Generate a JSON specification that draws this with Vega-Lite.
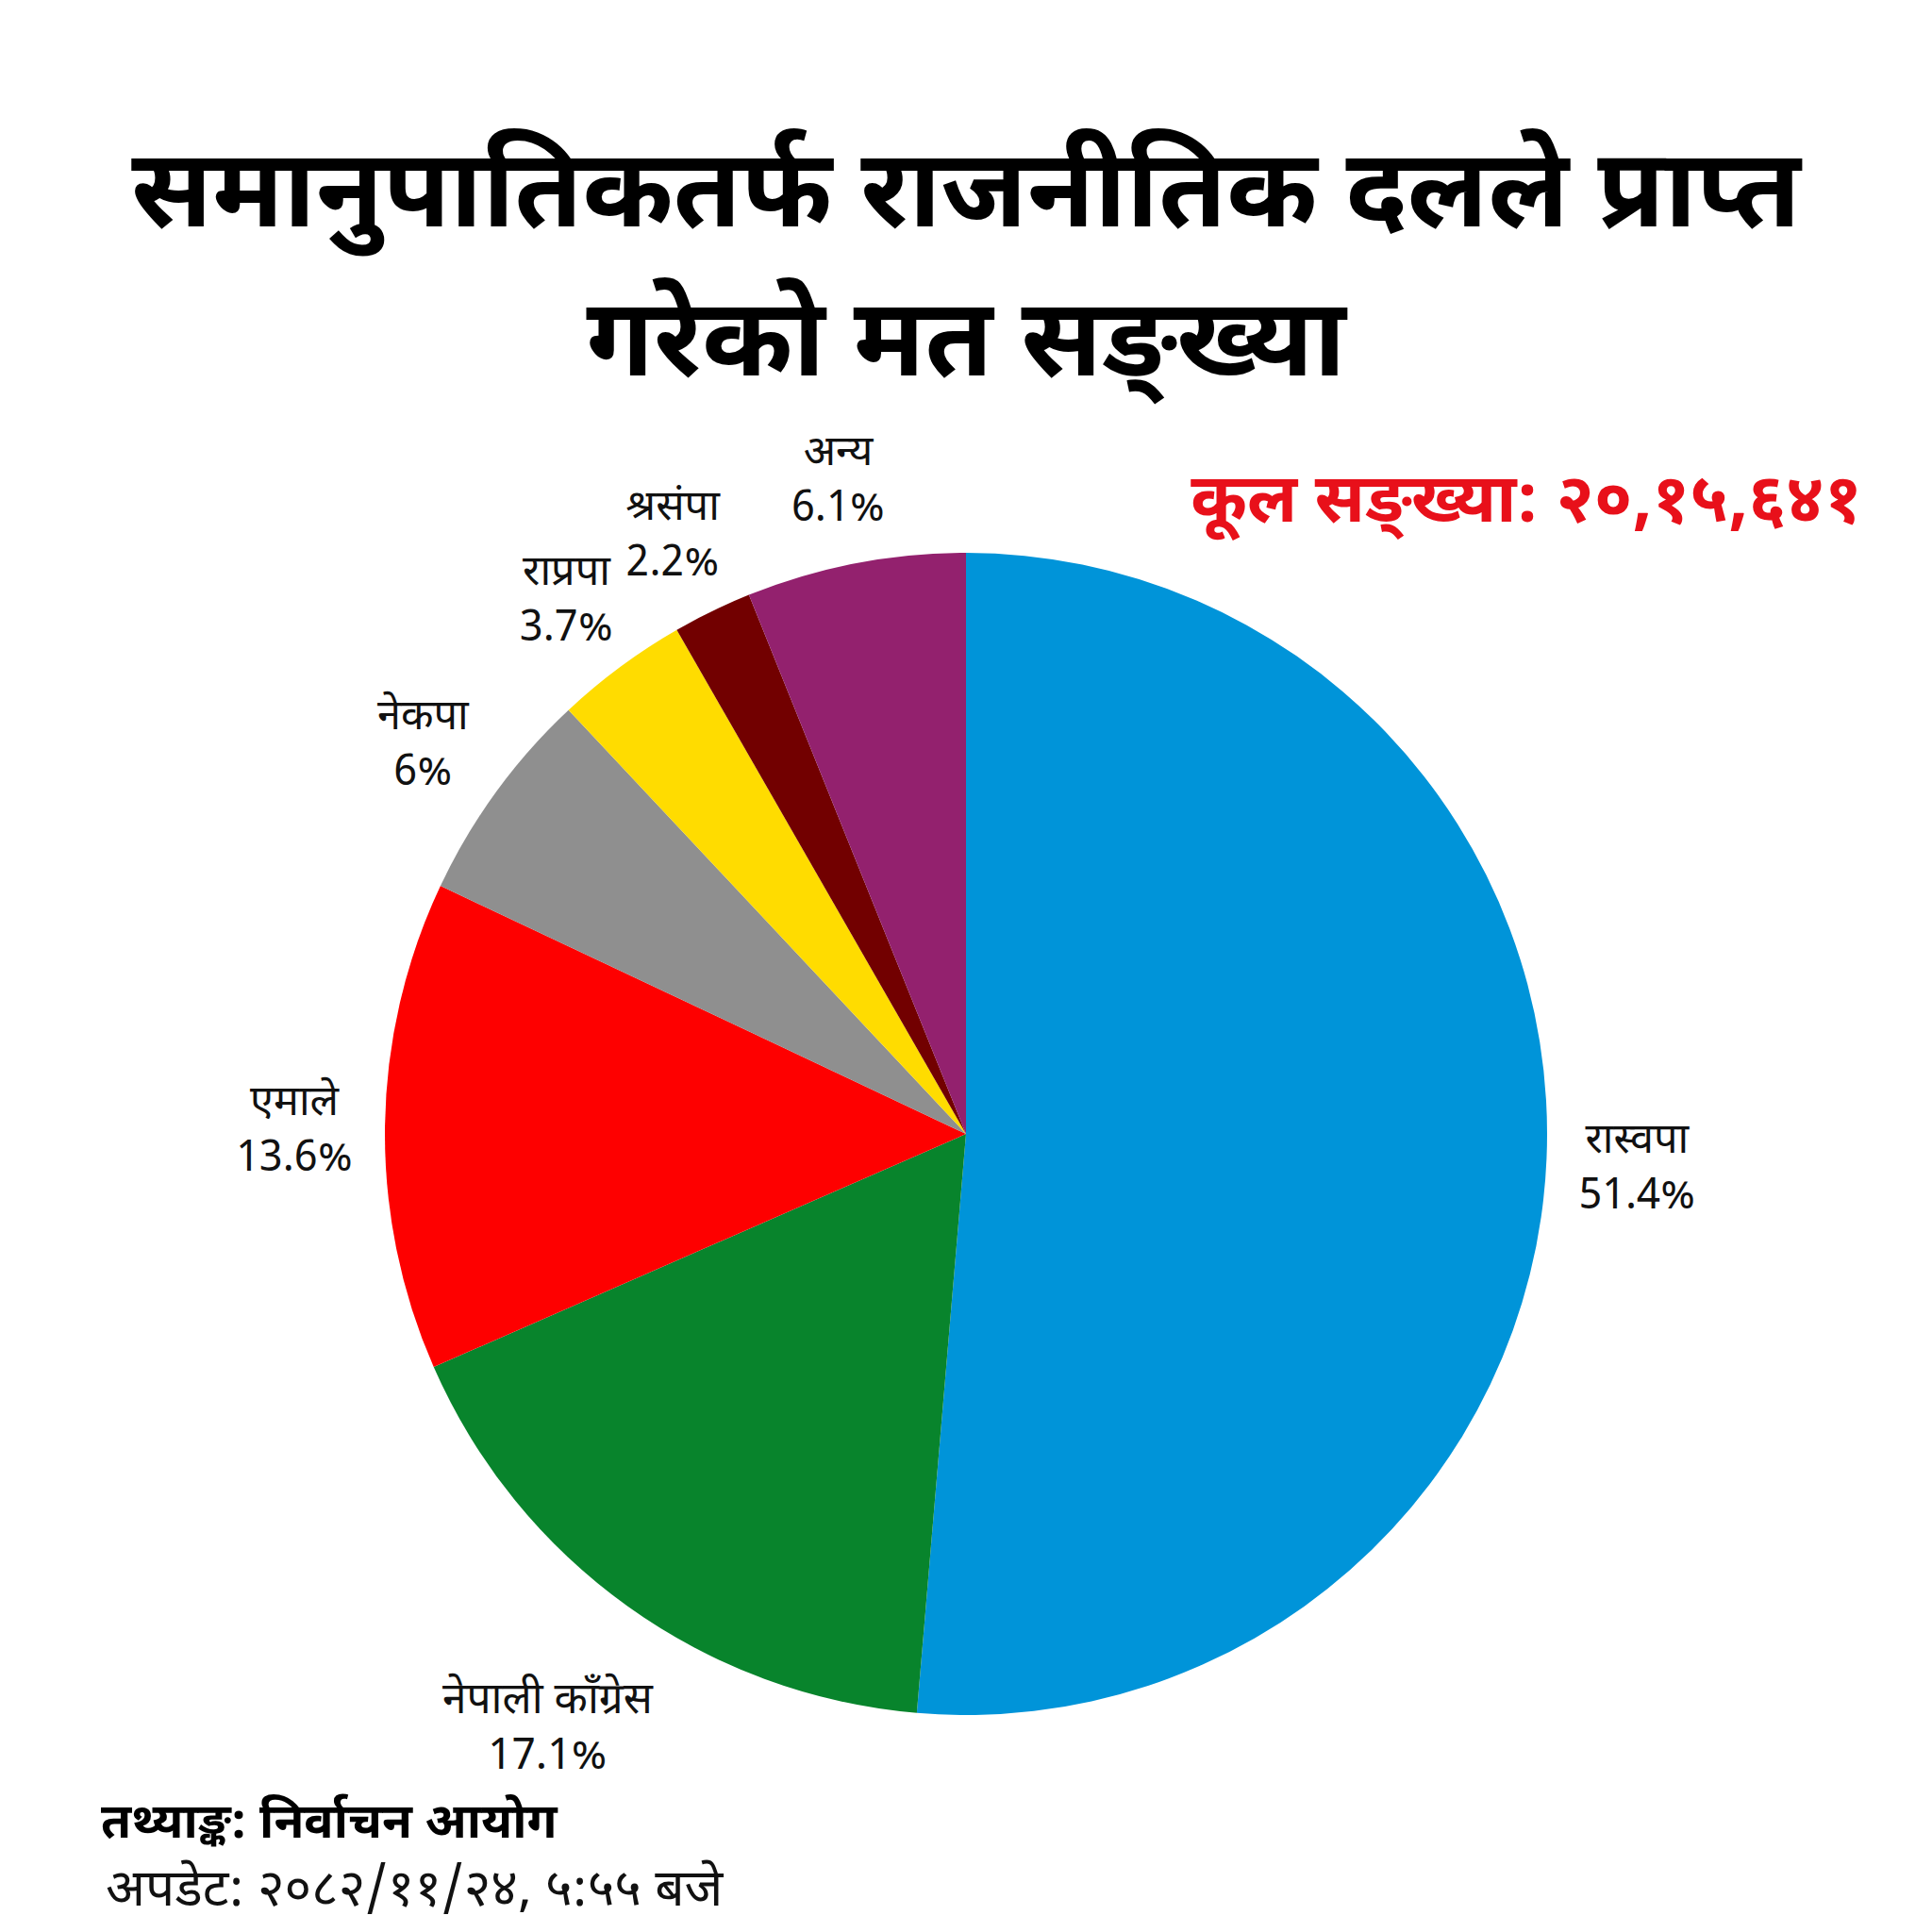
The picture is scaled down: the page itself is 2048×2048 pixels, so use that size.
{
  "$schema": "https://vega.github.io/schema/vega-lite/v6.json",
  "width": 2048,
  "height": 2048,
  "padding": 0,
  "autosize": {"type": "none"},
  "background": "white",
  "config": {"view": {"stroke": null}, "font": "Noto Sans Devanagari, Noto Sans, sans-serif"},
  "data": {
    "values": [
      {"rank": 1, "party": "रास्वपा", "pct": 51.4},
      {"rank": 2, "party": "नेपाली काँग्रेस", "pct": 17.1},
      {"rank": 3, "party": "एमाले", "pct": 13.6},
      {"rank": 4, "party": "नेकपा", "pct": 6},
      {"rank": 5, "party": "राप्रपा", "pct": 3.7},
      {"rank": 6, "party": "श्रसंपा", "pct": 2.2},
      {"rank": 7, "party": "अन्य", "pct": 6.1}
    ]
  },
  "layer": [
    {
      "mark": {"type": "arc", "outerRadius": 616, "strokeWidth": 0},
      "encoding": {
        "theta": {"field": "pct", "type": "quantitative", "stack": true},
        "order": {"field": "rank", "type": "quantitative"},
        "color": {
          "field": "party",
          "type": "nominal",
          "scale": {
            "domain": ["रास्वपा", "नेपाली काँग्रेस", "एमाले", "नेकपा", "राप्रपा", "श्रसंपा", "अन्य"],
            "range": ["#0094D9", "#08842C", "#FE0000", "#8F8F8F", "#FFDC00", "#720000", "#93216E"]
          },
          "legend": null
        },
        "x": {"value": 1024},
        "y": {"value": 1202}
      }
    },
    {
      "transform": [{"calculate": "[datum.party, datum.pct + '%']", "as": "label"}],
      "mark": {"type": "text", "radius": 712, "dy": -24, "fontSize": 45, "lineHeight": 59, "baseline": "middle", "align": "center", "color": "#111111"},
      "encoding": {
        "theta": {"field": "pct", "type": "quantitative", "stack": true},
        "order": {"field": "rank", "type": "quantitative"},
        "text": {"condition": {"test": "datum.rank == 2", "value": ""}, "field": "label"},
        "x": {"value": 1024},
        "y": {"value": 1202}
      }
    },
    {
      "transform": [{"calculate": "[datum.party, datum.pct + '%']", "as": "label"}],
      "mark": {"type": "text", "radius": 762, "dy": -20, "fontSize": 46, "lineHeight": 59, "baseline": "middle", "align": "center", "color": "#111111"},
      "encoding": {
        "theta": {"field": "pct", "type": "quantitative", "stack": true},
        "order": {"field": "rank", "type": "quantitative"},
        "text": {"condition": {"test": "datum.rank != 2", "value": ""}, "field": "label"},
        "x": {"value": 1024},
        "y": {"value": 1202}
      }
    },
    {
      "data": {"values": [{"t": "समानुपातिकतर्फ राजनीतिक दलले प्राप्त"}]},
      "mark": {"type": "text", "fontSize": 116, "fontWeight": "bold", "align": "center", "baseline": "alphabetic", "color": "#000000"},
      "encoding": {"text": {"field": "t"}, "x": {"value": 1024}, "y": {"value": 240}}
    },
    {
      "data": {"values": [{"t": "गरेको मत सङ्ख्या"}]},
      "mark": {"type": "text", "fontSize": 116, "fontWeight": "bold", "align": "center", "baseline": "alphabetic", "color": "#000000"},
      "encoding": {"text": {"field": "t"}, "x": {"value": 1024}, "y": {"value": 398}}
    },
    {
      "data": {"values": [{"t": "कूल सङ्ख्या: २०,१५,६४१"}]},
      "mark": {"type": "text", "fontSize": 72, "fontWeight": "bold", "align": "right", "baseline": "alphabetic", "color": "#E8101A"},
      "encoding": {"text": {"field": "t"}, "x": {"value": 1974}, "y": {"value": 553}}
    },
    {
      "data": {"values": [{"t": "तथ्याङ्क: निर्वाचन आयोग"}]},
      "mark": {"type": "text", "fontSize": 52, "fontWeight": "bold", "align": "left", "baseline": "alphabetic", "color": "#000000"},
      "encoding": {"text": {"field": "t"}, "x": {"value": 107}, "y": {"value": 1948}}
    },
    {
      "data": {"values": [{"t": "अपडेट: २०८२/११/२४, ५:५५ बजे"}]},
      "mark": {"type": "text", "fontSize": 55, "align": "left", "baseline": "alphabetic", "color": "#111111"},
      "encoding": {"text": {"field": "t"}, "x": {"value": 112}, "y": {"value": 2020}}
    }
  ]
}
